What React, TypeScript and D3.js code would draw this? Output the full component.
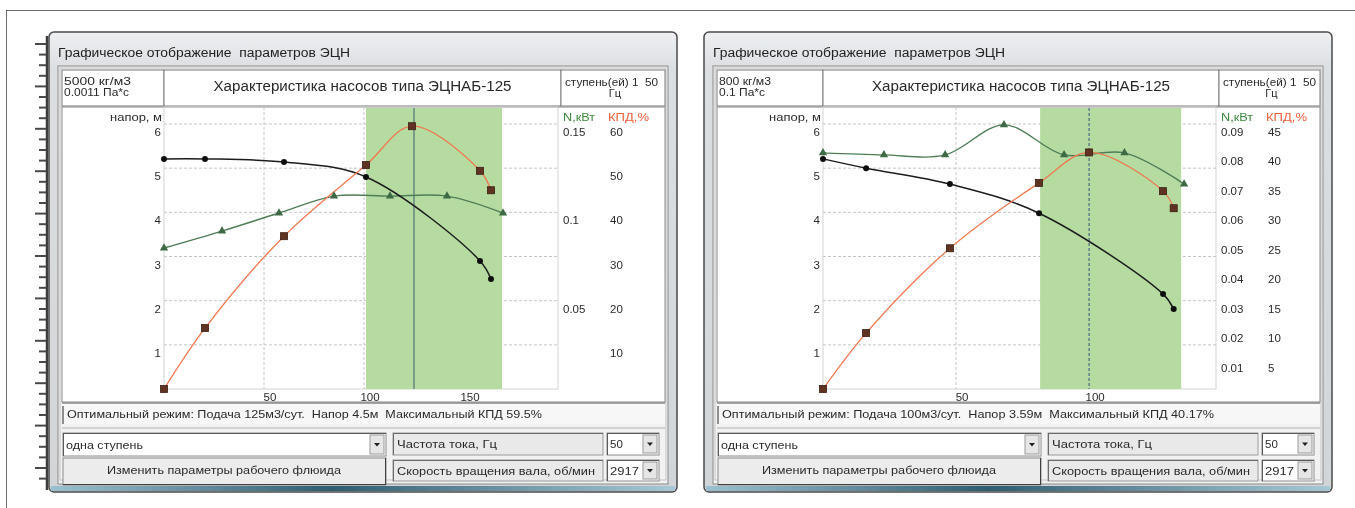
import React from 'react';
import * as d3 from 'd3';

const W = 1355;
const H = 508;
const FONT = "'Liberation Sans', Arial, sans-serif";

// ---------- Left window data (ЭЦНАБ-125, 5000 кг/м3) ----------
const leftQHead = [0, 20.5, 60, 101, 158, 163.5];
const leftHead = [5.21, 5.21, 5.14, 4.8, 2.9, 2.49];
const leftQKpd = [0, 20.5, 60, 101, 124, 158, 163.5];
const leftKpd = [0, 13.8, 34.6, 50.7, 59.5, 49.4, 45.0];
const leftQPower = [0, 29, 57.5, 85, 113, 141.5, 169.5];
const leftPower = [0.0798, 0.0894, 0.0996, 0.1092, 0.1092, 0.1092, 0.0996];
const leftHeadTicks = [1, 2, 3, 4, 5, 6];
const leftKpdTicks = [10, 20, 30, 40, 50, 60];
const leftPowerTicks = [0.05, 0.1, 0.15];
const leftPowerLabels = ['0.05', '0.1', '0.15'];
const leftQTicks = [50, 100, 150];
const leftBand = [101, 169];
const leftOpt = 125;

// ---------- Right window data (ЭЦНАБ-125, 800 кг/м3) ----------
const rightQHead = [0, 16.2, 47.7, 81.2, 127.8, 131.8];
const rightHead = [5.21, 5.0, 4.64, 3.98, 2.15, 1.81];
const rightQKpd = [0, 16.2, 47.7, 81.2, 100, 127.8, 131.8];
const rightKpd = [0, 9.5, 23.9, 35.0, 40.17, 33.6, 30.7];
const rightQPower = [0, 22.9, 45.9, 68.0, 90.6, 113.3, 135.7];
const rightPower = [0.0802, 0.0795, 0.0795, 0.0897, 0.0795, 0.0802, 0.0696];
const rightHeadTicks = [1, 2, 3, 4, 5, 6];
const rightKpdTicks = [5, 10, 15, 20, 25, 30, 35, 40, 45];
const rightPowerTicks = [0.01, 0.02, 0.03, 0.04, 0.05, 0.06, 0.07, 0.08, 0.09];
const rightPowerLabels = ['0.01', '0.02', '0.03', '0.04', '0.05', '0.06', '0.07', '0.08', '0.09'];
const rightQTicks = [50, 100];
const rightBand = [81.6, 134.6];
const rightOpt = 100;

const windowTitle = 'Графическое отображение  параметров ЭЦН';
const chartTitle = 'Характеристика насосов типа ЭЦНАБ-125';

const configs = [
  {
    id: 'L', wx: 49, ww: 628, x0: 164, x1: 558, qMax: 197, kpdMax: 60, powMax: 0.15,
    qHead: leftQHead, head: leftHead, qKpd: leftQKpd, kpd: leftKpd, qPow: leftQPower, pow: leftPower,
    headTicks: leftHeadTicks, kpdTicks: leftKpdTicks, powTicks: leftPowerTicks, powLabels: leftPowerLabels,
    qTicks: leftQTicks, band: leftBand, opt: leftOpt, optDashed: false,
    dens: '5000 кг/м3', visc: '0.0011 Па*с', densLen: 67, viscLen: 65,
    optText: 'Оптимальный режим: Подача 125м3/сут.  Напор 4.5м  Максимальный КПД 59.5%', optLen: 475,
  },
  {
    id: 'R', wx: 704, ww: 628, x0: 823, x1: 1216, qMax: 147.7, kpdMax: 45, powMax: 0.09,
    qHead: rightQHead, head: rightHead, qKpd: rightQKpd, kpd: rightKpd, qPow: rightQPower, pow: rightPower,
    headTicks: rightHeadTicks, kpdTicks: rightKpdTicks, powTicks: rightPowerTicks, powLabels: rightPowerLabels,
    qTicks: rightQTicks, band: rightBand, opt: rightOpt, optDashed: true,
    dens: '800 кг/м3', visc: '0.1 Па*с', densLen: 52, viscLen: 46,
    optText: 'Оптимальный режим: Подача 100м3/сут.  Напор 3.59м  Максимальный КПД 40.17%', optLen: 492,
  },
];

const Y_TOP = 124;
const Y_BOT = 389;

function Txt(props: any) {
  const { children, size = 11.5, fill = '#2a2a2a', len, ...rest } = props;
  const extra: any = {};
  if (len) { extra.textLength = len; extra.lengthAdjust = 'spacingAndGlyphs'; }
  return (
    <text fontFamily={FONT} fontSize={size} fill={fill} style={{ whiteSpace: 'pre' }} {...extra} {...rest}>{children}</text>
  );
}

function Combo({ x, y, w, h, text, textLen }: any) {
  return (
    <g>
      <rect x={x} y={y} width={w} height={h} fill="#ffffff" stroke="#8c8c8c" />
      <line x1={x} y1={y + 0.5} x2={x + w} y2={y + 0.5} stroke="#5a5a5a" />
      <line x1={x + 0.5} y1={y} x2={x + 0.5} y2={y + h} stroke="#5a5a5a" />
      <rect x={x + w - 16} y={y + 2} width={14} height={h - 4} fill="#e6e6e6" stroke="#9a9a9a" />
      <path d={`M${x + w - 12},${y + h / 2 - 1.5} L${x + w - 6},${y + h / 2 - 1.5} L${x + w - 9},${y + h / 2 + 2} Z`} fill="#222" />
      <Txt x={x + 3} y={y + h / 2 + 4} size={11.5} len={textLen}>{text}</Txt>
    </g>
  );
}

function LabelBox({ x, y, w, h, text, textLen }: any) {
  return (
    <g>
      <rect x={x} y={y} width={w} height={h} fill="#e9e9e9" stroke="#9a9a9a" />
      <line x1={x} y1={y + 0.5} x2={x + w} y2={y + 0.5} stroke="#6a6a6a" />
      <line x1={x + 0.5} y1={y} x2={x + 0.5} y2={y + h} stroke="#6a6a6a" />
      <Txt x={x + 4} y={y + h / 2 + 4} size={11.5} len={textLen}>{text}</Txt>
    </g>
  );
}

function Panel({ c }: any) {
  const { wx, ww, x0, x1 } = c;
  const x = d3.scaleLinear().domain([0, c.qMax]).range([x0, x1]);
  const yH = d3.scaleLinear().domain([0, 6]).range([Y_BOT, Y_TOP]);
  const yK = d3.scaleLinear().domain([0, c.kpdMax]).range([Y_BOT, Y_TOP]);
  const yP = d3.scaleLinear().domain([0, c.powMax]).range([Y_BOT, Y_TOP]);

  const headPts = c.qHead.map((q: number, i: number) => [q, c.head[i]]);
  const kpdPts = c.qKpd.map((q: number, i: number) => [q, c.kpd[i]]);
  const powPts = c.qPow.map((q: number, i: number) => [q, c.pow[i]]);

  const curve = d3.curveCatmullRom.alpha(0.5);
  const lineH = d3.line<any>().x(d => x(d[0])).y(d => yH(d[1])).curve(curve);
  const lineK = d3.line<any>().x(d => x(d[0])).y(d => yK(d[1])).curve(curve);
  const lineP = d3.line<any>().x(d => x(d[0])).y(d => yP(d[1])).curve(curve);

  const inL = wx + 9;
  const inR = wx + ww - 9;
  const boxL = wx + 13;
  const boxR = wx + ww - 12;
  const winTop = 32;
  const winBot = 492;
  const gradId = 'frame' + c.id;
  const blueId = 'blue' + c.id;
  const triangle = d3.symbol().type(d3.symbolTriangle).size(30);

  return (
    <g>
      <defs>
        <linearGradient id={gradId} x1="0" y1="0" x2="0" y2="1">
          <stop offset="0" stopColor="#eef0f2" />
          <stop offset="0.08" stopColor="#dcdfe2" />
          <stop offset="1" stopColor="#d2d5d8" />
        </linearGradient>
        <linearGradient id={blueId} x1="0" y1="0" x2="1" y2="0">
          <stop offset="0" stopColor="#9cc0cf" />
          <stop offset="0.45" stopColor="#2f5d70" />
          <stop offset="1" stopColor="#a8c8d6" />
        </linearGradient>
      </defs>
      {/* window frame */}
      <rect x={wx} y={winTop} width={ww} height={winBot - winTop} rx={5} fill={`url(#${gradId})`} stroke="#4b4b4b" strokeWidth={1.5} />
      <rect x={wx + 2} y={winBot - 6} width={ww - 4} height={5} fill={`url(#${blueId})`} />
      <Txt x={wx + 9} y={57} size={12.5} fill="#222" len={292}>{windowTitle}</Txt>
      {/* inner panel */}
      <rect x={inL} y={66} width={inR - inL} height={winBot - 8 - 66} fill="#f2f2f2" stroke="#8a8a8a" />
      <rect x={inL + 2} y={68} width={inR - inL - 4} height={winBot - 12 - 68} fill="none" stroke="#c4c4c4" />
      {/* header boxes */}
      <rect x={boxL} y={70} width={x0 - boxL} height={36} fill="#ffffff" stroke="#7a7a7a" />
      <rect x={x0} y={70} width={x1 + 3 - x0} height={36} fill="#ffffff" stroke="#7a7a7a" />
      <rect x={x1 + 3} y={70} width={boxR - x1 - 3} height={36} fill="#ffffff" stroke="#7a7a7a" />
      <Txt x={boxL + 2} y={85} size={11} len={c.densLen}>{c.dens}</Txt>
      <Txt x={boxL + 2} y={96} size={11} len={c.viscLen}>{c.visc}</Txt>
      <Txt x={(x0 + x1 + 3) / 2} y={91} size={14} textAnchor="middle" len={298}>{chartTitle}</Txt>
      <Txt x={x1 + 7} y={86} size={11} len={93}>ступень(ей) 1  50</Txt>
      <Txt x={(x1 + 3 + boxR) / 2 + 2} y={97} size={11} textAnchor="middle">Гц</Txt>
      {/* plot panel */}
      <rect x={boxL} y={107} width={boxR - boxL} height={295} fill="#ffffff" stroke="#8a8a8a" />
      <rect x={x0} y={107} width={x1 - x0} height={Y_BOT - 107} fill="none" stroke="#d4d4d4" />
      {/* gridlines */}
      {c.headTicks.map((t: number) => (
        <line key={'hg' + t} x1={x0} x2={x1} y1={yH(t)} y2={yH(t)} stroke="#c6c6c6" strokeDasharray="3,2" />
      ))}
      {c.qTicks.map((t: number) => (
        <line key={'vg' + t} x1={x(t)} x2={x(t)} y1={107} y2={Y_BOT} stroke="#c6c6c6" strokeDasharray="3,2" />
      ))}
      {/* recommended range */}
      <rect x={x(c.band[0])} y={108} width={x(c.band[1]) - x(c.band[0])} height={Y_BOT - 108} fill="#b5dba1" />
      <line x1={x(c.opt)} x2={x(c.opt)} y1={108} y2={Y_BOT} stroke={c.optDashed ? '#4c6688' : '#4f7277'} strokeWidth={1.2} strokeDasharray={c.optDashed ? '3,2' : undefined} />
      {/* axis labels */}
      <Txt x={x0 - 2} y={121} size={10.5} textAnchor="end" len={52}>напор, м</Txt>
      <Txt x={x1 + 5} y={121} size={10.5} fill="#3f8a3f" len={32}>N,кВт</Txt>
      <Txt x={x1 + 50} y={121} size={10.5} fill="#f0603c" len={41}>КПД,%</Txt>
      {c.headTicks.map((t: number) => (
        <Txt key={'hl' + t} x={x0 - 3} y={yH(t) + 12} size={11.5} textAnchor="end">{String(t)}</Txt>
      ))}
      {c.powTicks.map((t: number, i: number) => (
        <Txt key={'pl' + t} x={x1 + 5} y={yP(t) + 12} size={11.5}>{c.powLabels[i]}</Txt>
      ))}
      {c.kpdTicks.map((t: number) => (
        <Txt key={'kl' + t} x={x1 + 52} y={yK(t) + 12} size={11.5}>{String(t)}</Txt>
      ))}
      {c.qTicks.map((t: number) => (
        <Txt key={'ql' + t} x={x(t) + 6} y={401} size={11.5} textAnchor="middle">{String(t)}</Txt>
      ))}
      {/* curves */}
      <path d={lineP(powPts) || ''} fill="none" stroke="#4f7d58" strokeWidth={1.4} />
      <path d={lineH(headPts) || ''} fill="none" stroke="#1c1c1c" strokeWidth={1.5} />
      <path d={lineK(kpdPts) || ''} fill="none" stroke="#f0784f" strokeWidth={1.3} />
      {powPts.map((p: number[], i: number) => (
        <path key={'pm' + i} d={triangle() || ''} transform={`translate(${x(p[0])},${yP(p[1])})`} fill="#3e6b45" />
      ))}
      {headPts.map((p: number[], i: number) => (
        <circle key={'hm' + i} cx={x(p[0])} cy={yH(p[1])} r={3} fill="#111" />
      ))}
      {kpdPts.map((p: number[], i: number) => (
        <rect key={'km' + i} x={x(p[0]) - 3.5} y={yK(p[1]) - 3.5} width={7} height={7} fill="#5e3323" stroke="#3b1d12" strokeWidth={0.8} />
      ))}
      {/* groove + optimal text */}
      <line x1={boxL} x2={boxR} y1={403} y2={403} stroke="#8a8a8a" strokeWidth={1.5} />
      <line x1={boxL} x2={boxR} y1={405} y2={405} stroke="#ffffff" />
      <rect x={boxL} y={406} width={boxR - boxL} height={18} fill="#f7f7f7" />
      <line x1={boxL + 1} x2={boxL + 1} y1={406} y2={424} stroke="#6a6a6a" strokeWidth={1.5} />
      <Txt x={boxL + 5} y={418} size={11.5} len={c.optLen}>{c.optText}</Txt>
      <line x1={boxL} x2={boxR} y1={428} y2={428} stroke="#b0b0b0" />
      {/* controls */}
      <Combo x={wx + 14} y={433} w={323} h={23} text="одна ступень" textLen={77} />
      <rect x={wx + 14} y={458} width={323} height={27} fill="#ececec" stroke="#8a8a8a" />
      <line x1={wx + 14} x2={wx + 337} y1={484.5} y2={484.5} stroke="#3f3f3f" />
      <line x1={wx + 336.5} x2={wx + 336.5} y1={458} y2={485} stroke="#3f3f3f" />
      <Txt x={wx + 14 + 161} y={474} size={11.5} textAnchor="middle" len={234}>Изменить параметры рабочего флюида</Txt>
      <LabelBox x={wx + 344} y={433} w={210} h={22} text="Частота тока, Гц" textLen={100} />
      <LabelBox x={wx + 344} y={460} w={210} h={21} text="Скорость вращения вала, об/мин" textLen={198} />
      <Combo x={wx + 558} y={433} w={52} h={22} text="50" />
      <Combo x={wx + 558} y={460} w={52} h={21} text="2917" textLen={29} />
    </g>
  );
}

function Ruler() {
  const ticks = d3.range(44, 486, 10.6);
  return (
    <g>
      <line x1={47} x2={47} y1={36} y2={490} stroke="#3c3c3c" strokeWidth={2.5} />
      {ticks.map((t, i) => (
        <line key={i} x1={i % 4 === 0 ? 35 : 39} x2={46} y1={t} y2={t} stroke="#4a4a4a" strokeWidth={2} />
      ))}
    </g>
  );
}

export default function App() {
  return (
    <div style={{ position: 'absolute', left: 0, top: 0, width: W, height: H, background: '#ffffff' }}>
      <svg width={W} height={H} viewBox={`0 0 ${W} ${H}`} style={{ display: 'block' }}>
        <defs>
          <filter id="soft" x="0" y="0" width="1" height="1">
            <feGaussianBlur stdDeviation="0.35" />
          </filter>
        </defs>
        <rect x={0} y={0} width={W} height={H} fill="#ffffff" />
        <g filter="url(#soft)">
          <line x1={6} x2={W} y1={10} y2={10} stroke="#3a3a3a" strokeWidth={1.5} />
          <line x1={6} x2={6} y1={10} y2={H} stroke="#3a3a3a" strokeWidth={1.5} />
          <Ruler />
          {configs.map(c => <Panel key={c.id} c={c} />)}
        </g>
      </svg>
    </div>
  );
}
